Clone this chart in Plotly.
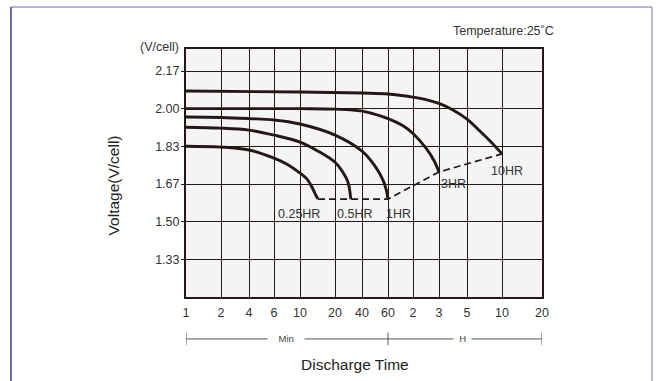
import numpy as np
import plotly.graph_objects as go

# ---- axis definitions ----
TICK_MIN = [1, 2, 4, 6, 10, 20, 40, 60, 120, 180, 300, 600, 1200]
TICK_TEXT = ["1", "2", "4", "6", "10", "20", "40", "60", "2", "3", "5", "10", "20"]
TICK_POS = [0, 35, 63, 88, 114, 149, 176, 202, 227, 253, 281, 316, 356]  # custom (non-uniform) scale
Y_TICKS = [4/3, 1.5, 5/3, 11/6, 2.0, 13/6]
Y_TEXT = ["1.33", "1.50", "1.67", "1.83", "2.00", "2.17"]

# ---- discharge curves: time (min), voltage (V/cell) ----
T_025 = [1, 2, 4, 6, 7.75, 10, 11.5, 12.7, 13.7, 14.3]
V_025 = [1.834, 1.830, 1.817, 1.781, 1.754, 1.715, 1.688, 1.652, 1.617, 1.60]

T_05 = [1, 2, 4, 6, 10, 14.3, 20, 24.5, 27.9, 30]
V_05 = [1.918, 1.914, 1.905, 1.883, 1.852, 1.812, 1.763, 1.719, 1.675, 1.60]

T_1 = [1, 2, 4, 6, 10, 20, 40, 49, 55.5, 58.5, 60]
V_1 = [1.963, 1.961, 1.956, 1.950, 1.932, 1.883, 1.812, 1.746, 1.684, 1.639, 1.60]

T_3 = [1, 10, 20, 40, 60, 90, 120, 147, 166, 180]
V_3 = [2.0, 2.0, 1.998, 1.989, 1.956, 1.925, 1.890, 1.825, 1.772, 1.72]

T_10 = [1, 10, 40, 60, 120, 147, 180, 232, 300, 387, 492, 600]
V_10 = [2.078, 2.074, 2.069, 2.065, 2.051, 2.040, 2.023, 1.994, 1.954, 1.901, 1.848, 1.80]

# end-voltage (dashed) line
T_END = [14.3, 30, 60, 180, 600]
V_END = [1.60, 1.60, 1.60, 1.72, 1.80]
END_LABELS = ["0.25HR", "0.5HR", "1HR", "3HR", "10HR"]


def xpos(t):
    return np.interp(np.log(np.asarray(t, dtype=float)), np.log(TICK_MIN), TICK_POS)


INK = "#231815"
FONT = "Liberation Sans, Arial, sans-serif"

fig = go.Figure()
for T, V in [(T_025, V_025), (T_05, V_05), (T_1, V_1), (T_3, V_3), (T_10, V_10)]:
    fig.add_trace(go.Scatter(x=xpos(T), y=V, mode="lines",
                             line=dict(color=INK, width=2.9, shape="spline", smoothing=1.0),
                             hoverinfo="skip", showlegend=False))
fig.add_trace(go.Scatter(x=xpos(T_END), y=V_END, mode="lines",
                         line=dict(color=INK, width=1.7, dash="7px,4px"),
                         hoverinfo="skip", showlegend=False))

# end labels
label_cfg = {
    "0.25HR": dict(xanchor="right", yanchor="top", xshift=4, yshift=-6),
    "0.5HR": dict(xanchor="center", yanchor="top", xshift=4, yshift=-6),
    "1HR": dict(xanchor="left", yanchor="top", xshift=-4, yshift=-6),
    "3HR": dict(xanchor="left", yanchor="top", xshift=0, yshift=-3),
    "10HR": dict(xanchor="center", yanchor="top", xshift=5, yshift=-8),
}
for t, v, lab in zip(T_END, V_END, END_LABELS):
    fig.add_annotation(x=float(xpos([t])[0]), y=v, xref="x", yref="y", text=lab,
                       showarrow=False, font=dict(family=FONT, size=12.5, color="#333333"),
                       **label_cfg[lab])

# text annotations around the plot
fig.add_annotation(xref="paper", yref="paper", x=1.039, y=1.073, text="Temperature:25˚C",
                   showarrow=False, xanchor="right", yanchor="middle",
                   font=dict(family=FONT, size=12.5, color="#333333"))
fig.add_annotation(xref="paper", yref="paper", x=-0.013, y=1.008, text="(V/cell)",
                   showarrow=False, xanchor="right", yanchor="middle",
                   font=dict(family=FONT, size=12.5, color="#333333"))
fig.add_annotation(xref="paper", yref="paper", x=-0.205, y=0.45, text="Voltage(V/cell)",
                   showarrow=False, textangle=-90, xanchor="center", yanchor="middle",
                   font=dict(family=FONT, size=15.5, color="#222222"))
fig.add_annotation(xref="paper", yref="paper", x=0.475, y=-0.274, text="Discharge Time",
                   showarrow=False, xanchor="center", yanchor="middle",
                   font=dict(family=FONT, size=15.5, color="#222222"))

# Min / H brackets
yb = -0.169
shapes = []
x1, x60, x1200 = [float(v) for v in xpos([1, 60, 1200])]
for a, b in [(x1, x60), (x60, x1200)]:
    shapes.append(dict(type="line", xref="x", yref="paper", x0=a, x1=b, y0=yb, y1=yb,
                       line=dict(color="#555555", width=1)))
for xx in [x1, x60, x1200]:
    shapes.append(dict(type="line", xref="x", yref="paper", x0=xx, x1=xx, y0=yb - 0.025, y1=yb + 0.025,
                       line=dict(color="#555555", width=1)))
fig.add_annotation(xref="x", yref="paper", x=(x1 + x60) / 2 - 1, y=yb,
                   text="\u00a0\u00a0\u00a0\u00a0Min\u00a0\u00a0\u00a0\u00a0", showarrow=False,
                   bgcolor="white", borderpad=0, xanchor="center", yanchor="middle",
                   font=dict(family=FONT, size=9.5, color="#444444"))
fig.add_annotation(xref="x", yref="paper", x=(x60 + x1200) / 2 - 3, y=yb,
                   text="\u00a0\u00a0H\u00a0\u00a0", showarrow=False,
                   bgcolor="white", borderpad=0, xanchor="center", yanchor="middle",
                   font=dict(family=FONT, size=9.5, color="#444444"))

# outer frame
fx0, fx1 = (11 - 186) / 356, (652 - 186) / 356
fy0, fy1 = (297 - 400) / 248, (297 - 7) / 248
shapes.append(dict(type="line", xref="paper", yref="paper", x0=fx0, x1=fx1, y0=fy1, y1=fy1,
                   line=dict(color="#9a9ad2", width=1.5)))
shapes.append(dict(type="line", xref="paper", yref="paper", x0=fx0, x1=fx0, y0=fy0, y1=fy1,
                   line=dict(color="#3b3b96", width=1.5)))
shapes.append(dict(type="line", xref="paper", yref="paper", x0=fx1, x1=fx1, y0=fy0, y1=fy1,
                   line=dict(color="#8a8ab8", width=1.2)))

fig.update_layout(
    width=660, height=381, autosize=False,
    margin=dict(l=186, r=118, t=49, b=84, pad=0),
    paper_bgcolor="white", plot_bgcolor="#f4f4f4",
    shapes=shapes,
    font=dict(family=FONT, size=12, color="#333333"),
)
fig.update_xaxes(range=[0, 356], tickvals=TICK_POS, ticktext=TICK_TEXT,
                 showgrid=True, gridcolor=INK, gridwidth=1.1, zeroline=False,
                 showline=True, linecolor=INK, linewidth=2, mirror=True,
                 ticks="", ticklabelstandoff=3, tickfont=dict(size=12.5, family=FONT, color="#333333"))
fig.update_yaxes(range=[7/6, 2.264], tickvals=Y_TICKS, ticktext=Y_TEXT,
                 showgrid=True, gridcolor=INK, gridwidth=1.1, zeroline=False,
                 showline=True, linecolor=INK, linewidth=2, mirror=True,
                 ticks="outside", ticklen=3, tickcolor=INK, tickwidth=1, ticklabelstandoff=-1,
                 tickfont=dict(size=12.5, family=FONT, color="#333333"))

fig.write_html("out.html")
